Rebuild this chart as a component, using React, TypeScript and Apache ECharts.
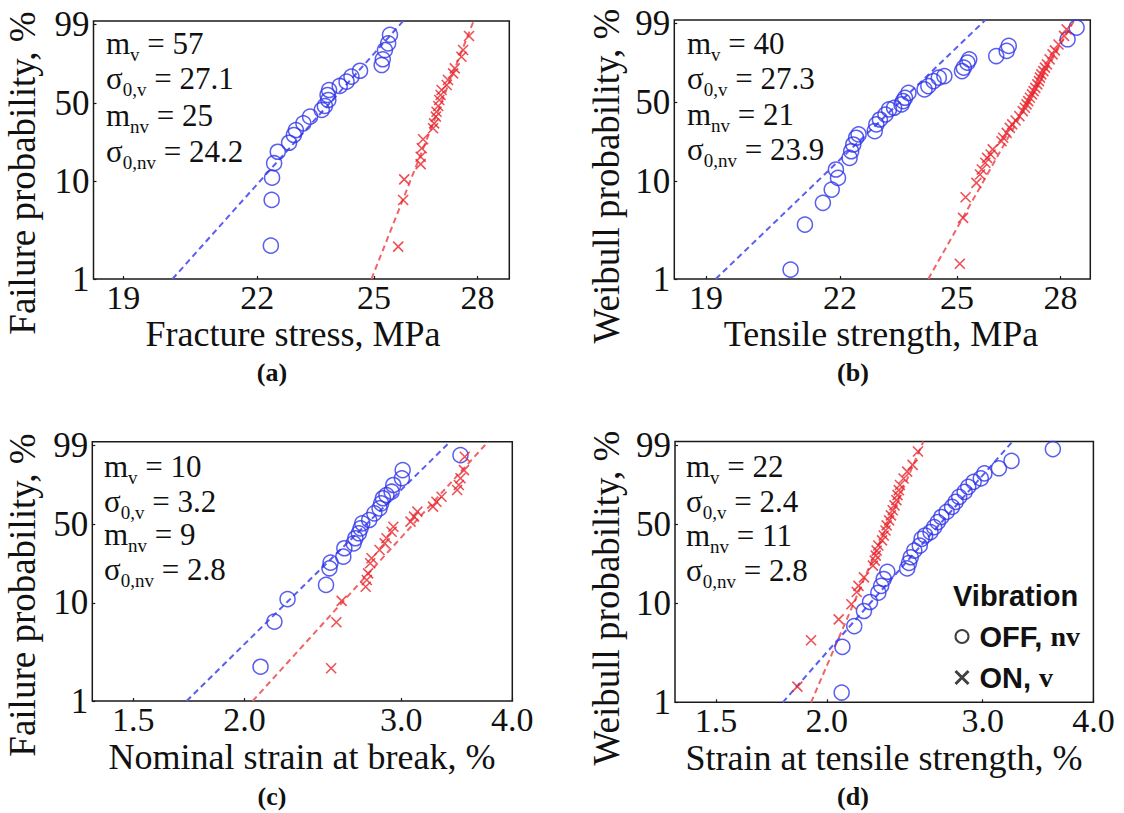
import React, { useEffect, useRef } from 'react';
import * as echarts from 'echarts';

// ---------------- Data ----------------
// (a) Fracture stress, MPa  – nv: vibration OFF (circles), v: vibration ON (crosses)
const aStressNv = [22.33, 22.35, 22.36, 22.41, 22.5, 22.78, 22.9, 22.95, 23.14, 23.31, 23.61, 23.69, 23.78, 23.76, 23.8, 24.08, 24.26, 24.39, 24.62, 25.21, 25.24, 25.3, 25.39, 25.44];
const aProbNv = [2.22, 6.53, 10.9, 15.1, 19.4, 23.5, 27.6, 30.5, 34.8, 39.5, 44.6, 47.8, 52.8, 57.1, 61.5, 65.1, 68.9, 73.2, 78.1, 82.5, 86.5, 91.8, 94.7, 97.3];
const aStressV = [25.67, 25.81, 25.84, 26.31, 26.31, 26.34, 26.38, 26.67, 26.7, 26.75, 26.77, 26.82, 26.85, 26.89, 26.92, 27.07, 27.11, 27.26, 27.31, 27.51, 27.56, 27.74];
const aProbV = [2.17, 6.53, 10.5, 14.8, 17.4, 20.9, 25.3, 31.6, 34.8, 39.5, 43.2, 47.8, 52.8, 57.1, 61.5, 66.0, 70.3, 76.0, 80.0, 88.1, 91.8, 97.0];
const aFitNv = [[20.05, 1], [25.81, 99.35]];
const aFitV = [[24.93, 1], [27.88, 99.35]];
const aParams = ['57', '27.1', '25', '24.2'];

// (b) Tensile strength, MPa
const bStrNv = [20.84, 21.17, 21.59, 21.8, 21.95, 21.9, 22.23, 22.27, 22.32, 22.39, 22.45, 22.85, 22.89, 22.98, 23.12, 23.21, 23.34, 23.53, 23.57, 23.62, 23.71, 24.13, 24.23, 24.37, 24.51, 24.66, 25.14, 25.19, 25.29, 25.34, 26.1, 26.4, 26.46, 28.22, 28.5];
const bProbNv = [1.25, 3.64, 6.06, 8.23, 10.76, 13.0, 16.8, 19.4, 22.4, 25.8, 27.6, 29.5, 33.7, 37.0, 40.6, 44.5, 45.8, 48.5, 51.3, 54.1, 58.4, 61.4, 64.3, 68.7, 71.7, 73.0, 77.2, 79.9, 83.6, 85.9, 88.0, 90.9, 93.3, 95.8, 98.5];
const bStrV = [25.08, 25.17, 25.24, 25.54, 25.64, 25.69, 25.79, 25.84, 25.94, 26.0, 26.25, 26.3, 26.4, 26.49, 26.56, 26.66, 26.77, 26.87, 26.93, 26.98, 27.03, 27.08, 27.14, 27.19, 27.24, 27.3, 27.35, 27.38, 27.42, 27.48, 27.53, 27.59, 27.67, 27.76, 27.83, 27.94, 28.11, 28.19];
const bProbV = [1.44, 4.27, 6.91, 9.6, 11.6, 13.0, 15.1, 16.8, 18.1, 20.2, 24.0, 25.8, 28.5, 31.5, 33.7, 36.3, 39.4, 43.2, 45.8, 48.5, 51.3, 54.1, 57.0, 59.9, 62.8, 65.8, 68.7, 71.7, 74.5, 77.2, 79.9, 82.4, 85.9, 89.0, 91.2, 93.9, 96.8, 98.2];
const bFitNv = [[19.2, 1], [25.79, 99.35]];
const bFitV = [[24.23, 1], [28.43, 99.35]];
const bParams = ['40', '27.3', '21', '23.9'];

// (c) Nominal strain at break, %
const cStrainNv = [2.085, 2.161, 2.236, 2.47, 2.492, 2.499, 2.583, 2.59, 2.653, 2.665, 2.689, 2.701, 2.713, 2.762, 2.799, 2.837, 2.849, 2.862, 2.888, 2.927, 2.94, 3.006, 3.012, 3.498];
const cProbNv = [2.26, 6.51, 10.9, 15.0, 21.5, 24.2, 27.4, 32.4, 35.6, 39.2, 42.9, 46.8, 50.9, 53.7, 59.5, 63.9, 68.3, 72.7, 75.4, 78.1, 83.2, 87.7, 92.2, 97.4];
const cStrainV = [2.503, 2.537, 2.572, 2.737, 2.745, 2.754, 2.769, 2.779, 2.837, 2.875, 2.888, 2.927, 2.94, 3.074, 3.102, 3.129, 3.258, 3.287, 3.331, 3.468, 3.483, 3.498, 3.53, 3.537];
const cProbV = [2.18, 6.42, 10.5, 14.4, 16.7, 19.3, 23.9, 26.5, 31.3, 35.6, 39.2, 44.1, 48.1, 52.3, 56.6, 61.0, 65.4, 69.7, 74.0, 79.4, 83.2, 87.7, 92.2, 97.0];
const cFitNv = [[1.722, 1], [3.406, 99.35]];
const cFitV = [[2.043, 1], [3.757, 99.35]];
const cParams = ['10', '3.2', '9', '2.8'];

// (d) Strain at tensile strength, %
const dStrainNv = [2.079, 2.083, 2.148, 2.203, 2.238, 2.287, 2.304, 2.319, 2.341, 2.465, 2.477, 2.488, 2.511, 2.547, 2.559, 2.583, 2.619, 2.644, 2.669, 2.694, 2.731, 2.77, 2.796, 2.822, 2.862, 2.889, 2.93, 2.985, 3.013, 3.129, 3.233, 3.6];
const dProbNv = [1.26, 3.7, 5.99, 8.48, 10.4, 12.8, 14.9, 17.3, 20.2, 21.7, 24.3, 27.3, 31.2, 34.4, 39.0, 41.5, 44.1, 48.0, 52.2, 56.5, 60.9, 65.3, 69.7, 73.9, 78.0, 81.9, 85.4, 87.6, 90.5, 93.0, 95.8, 98.5];
const dStrainV = [1.853, 1.92, 2.063, 2.132, 2.162, 2.172, 2.203, 2.255, 2.266, 2.272, 2.277, 2.287, 2.309, 2.319, 2.33, 2.337, 2.352, 2.363, 2.374, 2.385, 2.397, 2.404, 2.412, 2.419, 2.442, 2.465, 2.5, 2.535];
const dProbV = [1.45, 4.32, 7.0, 9.87, 13.0, 14.9, 17.9, 23.0, 25.5, 28.2, 31.2, 34.4, 37.9, 41.5, 45.3, 49.4, 53.6, 57.9, 62.4, 66.7, 71.2, 75.4, 79.4, 83.2, 87.6, 91.4, 94.4, 98.1];
const dFitNv = [[1.784, 1], [3.242, 99.35]];
const dFitV = [[1.92, 1], [2.571, 99.35]];
const dParams = ['22', '2.4', '11', '2.8'];

// Tick labels
const probTicks = [1, 10, 50, 99];
const probTickLabels = ['1', '10', '50', '99'];
const stressTicks = [19, 22, 25, 28];
const stressTickLabels = ['19', '22', '25', '28'];
const strainTicks = [1.5, 2.0, 3.0, 4.0];
const strainTickLabels = ['1.5', '2.0', '3.0', '4.0'];

const seriesNames = ['OFF, nv', 'ON, v'];

// ---------------- Scales (Weibull probability paper) ----------------
const W = (p: number) => Math.log(-Math.log(1 - p / 100));
const L = (x: number) => Math.log(x);
const P_MIN = 1;
const P_MAX = 99.35;

const SERIF = 'Liberation Serif, Times New Roman, Times, serif';
const SANS = 'Liberation Sans, Arial, Helvetica, sans-serif';
const BLUE = '#2f36e8';
const RED = '#e8242c';
const BLUE_LINE = '#5b5ef0';
const RED_LINE = '#f06468';
const CROSS = 'path://M0 0L10 10M10 0L0 10';

const panels = [
  {
    grid: { left: 93.5, top: 21, width: 415.8, height: 258 },
    xMin: 18.39, xMax: 28.99, ticks: stressTicks, tickLabels: stressTickLabels,
    nvX: aStressNv, nvP: aProbNv, vX: aStressV, vP: aProbV, fitNv: aFitNv, fitV: aFitV,
    params: aParams, paramX: 106, paramY: [44, 79, 116, 152],
    yTitle: 'Failure probability, %', yTitlePos: [22, 173],
    xTitle: 'Fracture stress, MPa', xTitlePos: [293, 334],
    caption: '(a)', capPos: [272, 372],
  },
  {
    grid: { left: 674.3, top: 20, width: 416, height: 259 },
    xMin: 18.35, xMax: 28.93, ticks: stressTicks, tickLabels: stressTickLabels,
    nvX: bStrNv, nvP: bProbNv, vX: bStrV, vP: bProbV, fitNv: bFitNv, fitV: bFitV,
    params: bParams, paramX: 687, paramY: [44, 79, 115, 150],
    yTitle: 'Weibull probability, %', yTitlePos: [606, 176],
    xTitle: 'Tensile strength, MPa', xTitlePos: [881, 334],
    caption: '(b)', capPos: [853, 372],
  },
  {
    grid: { left: 92.3, top: 441.7, width: 420, height: 259.3 },
    xMin: 1.349, xMax: 4.0, ticks: strainTicks, tickLabels: strainTickLabels,
    nvX: cStrainNv, nvP: cProbNv, vX: cStrainV, vP: cProbV, fitNv: cFitNv, fitV: cFitV,
    params: cParams, paramX: 104, paramY: [467, 502, 535, 570],
    yTitle: 'Failure probability, %', yTitlePos: [22, 595],
    xTitle: 'Nominal strain at break, %', xTitlePos: [302, 757],
    caption: '(c)', capPos: [272, 796],
  },
  {
    grid: { left: 675, top: 441.5, width: 418.4, height: 260.8 },
    xMin: 1.348, xMax: 4.0, ticks: strainTicks, tickLabels: strainTickLabels,
    nvX: dStrainNv, nvP: dProbNv, vX: dStrainV, vP: dProbV, fitNv: dFitNv, fitV: dFitV,
    params: dParams, paramX: 686, paramY: [467, 502, 536, 571],
    yTitle: 'Weibull probability, %', yTitlePos: [606, 598],
    xTitle: 'Strain at tensile strength, %', xTitlePos: [884, 758],
    caption: '(d)', capPos: [853, 796],
  },
];

function buildOption() {
  const grids: any[] = [];
  const xAxes: any[] = [];
  const yAxes: any[] = [];
  const series: any[] = [];
  const graphics: any[] = [];

  panels.forEach((pn, i) => {
    grids.push({
      ...pn.grid,
      show: true,
      borderColor: '#1a1a1a',
      borderWidth: 1.5,
      backgroundColor: 'rgba(0,0,0,0)',
      containLabel: false,
    });
    const xTickVals = pn.ticks.map(L);
    xAxes.push({
      type: 'value',
      gridIndex: i,
      position: 'bottom',
      min: L(pn.xMin),
      max: L(pn.xMax),
      axisLine: { show: false, onZero: false },
      splitLine: { show: false },
      axisTick: { show: true, inside: true, length: 3, customValues: xTickVals, lineStyle: { color: '#1a1a1a', width: 1.2 } },
      axisLabel: {
        customValues: xTickVals,
        margin: 1,
        fontSize: 34,
        fontFamily: SERIF,
        color: '#111',
        formatter: (v: number) => {
          const k = xTickVals.findIndex((t) => Math.abs(t - v) < 1e-6);
          return k >= 0 ? pn.tickLabels[k] : '';
        },
      },
    });
    const yTickVals = probTicks.map(W);
    yAxes.push({
      type: 'value',
      gridIndex: i,
      position: 'left',
      min: W(P_MIN),
      max: W(P_MAX),
      axisLine: { show: false, onZero: false },
      splitLine: { show: false },
      axisTick: { show: true, inside: true, length: 3, customValues: yTickVals, lineStyle: { color: '#1a1a1a', width: 1.2 } },
      axisLabel: {
        customValues: yTickVals,
        margin: 4,
        fontSize: 35,
        fontFamily: SERIF,
        color: '#111',
        formatter: (v: number) => {
          const k = yTickVals.findIndex((t) => Math.abs(t - v) < 1e-6);
          return k >= 0 ? probTickLabels[k] : '';
        },
      },
    });

    const fitStyle = (c: string) => ({ color: c, width: 2, type: [6, 4] });
    series.push({
      type: 'line', xAxisIndex: i, yAxisIndex: i, silent: true, showSymbol: false, z: 1,
      data: pn.fitNv.map(([x, p]) => [L(x), W(p)]), lineStyle: fitStyle(BLUE_LINE),
    });
    series.push({
      type: 'line', xAxisIndex: i, yAxisIndex: i, silent: true, showSymbol: false, z: 1,
      data: pn.fitV.map(([x, p]) => [L(x), W(p)]), lineStyle: fitStyle(RED_LINE),
    });
    series.push({
      name: seriesNames[0], type: 'scatter', xAxisIndex: i, yAxisIndex: i, z: 3,
      symbol: 'circle', symbolSize: 15,
      itemStyle: { color: 'rgba(0,0,0,0)', borderColor: BLUE, borderWidth: 1.5 },
      data: pn.nvX.map((x, k) => [L(x), W(pn.nvP[k])]),
    });
    series.push({
      name: seriesNames[1], type: 'scatter', xAxisIndex: i, yAxisIndex: i, z: 4,
      symbol: CROSS, symbolSize: 10,
      itemStyle: { color: 'rgba(0,0,0,0)', borderColor: RED, borderWidth: 1.6 },
      data: pn.vX.map((x, k) => [L(x), W(pn.vP[k])]),
    });

    // parameter annotations
    const lines = [
      `{m|m}{s|v}{m| = ${pn.params[0]}}`,
      `{m|σ}{s|0,v}{m| = ${pn.params[1]}}`,
      `{m|m}{s|nv}{m| = ${pn.params[2]}}`,
      `{m|σ}{s|0,nv}{m| = ${pn.params[3]}}`,
    ];
    lines.forEach((t, k) => {
      graphics.push({
        type: 'text', x: pn.paramX, y: pn.paramY[k], z: 10,
        style: {
          text: t, align: 'left', verticalAlign: 'middle', fill: '#111',
          rich: {
            m: { fontSize: 31, fontFamily: SERIF, fill: '#111', lineHeight: 32, verticalAlign: 'top' },
            s: { fontSize: 19, fontFamily: SERIF, fill: '#111', lineHeight: 14, verticalAlign: 'top', padding: [17, 0, 0, 0] },
          },
        },
      });
    });

    graphics.push({
      type: 'text', x: pn.yTitlePos[0], y: pn.yTitlePos[1], rotation: Math.PI / 2,
      style: { text: pn.yTitle, fontSize: 37, fontFamily: SERIF, fill: '#111', align: 'center', verticalAlign: 'middle' },
    });
    graphics.push({
      type: 'text', x: pn.xTitlePos[0], y: pn.xTitlePos[1],
      style: { text: pn.xTitle, fontSize: 36, fontFamily: SERIF, fill: '#111', align: 'center', verticalAlign: 'middle' },
    });
    graphics.push({
      type: 'text', x: pn.capPos[0], y: pn.capPos[1],
      style: { text: pn.caption, fontSize: 26, fontWeight: 'bold', fontFamily: SERIF, fill: '#111', align: 'center', verticalAlign: 'middle' },
    });
  });

  graphics.push({
    type: 'text', x: 953, y: 596,
    style: { text: 'Vibration', fontSize: 29, fontWeight: 'bold', fontFamily: SANS, fill: '#111', align: 'left', verticalAlign: 'middle' },
  });

  return {
    animation: false,
    backgroundColor: '#ffffff',
    grid: grids,
    xAxis: xAxes,
    yAxis: yAxes,
    series,
    graphic: graphics,
    legend: {
      show: true,
      selectedMode: false,
      orient: 'vertical',
      left: 954,
      top: 622,
      padding: 0,
      itemGap: 12,
      itemWidth: 13,
      itemHeight: 13,
      data: [
        { name: seriesNames[0], icon: 'circle', itemStyle: { color: 'rgba(0,0,0,0)', borderColor: '#111', borderWidth: 2 } },
        { name: seriesNames[1], icon: CROSS, itemStyle: { color: 'rgba(0,0,0,0)', borderColor: '#111', borderWidth: 3 } },
      ],
      formatter: (name: string) => {
        const [a, b] = name.split(' ');
        return `{s|${a} }{r|${b}}`;
      },
      textStyle: {
        padding: [0, 0, 0, 6],
        rich: {
          s: { fontSize: 29, fontWeight: 'bold', fontFamily: SANS, color: '#111' },
          r: { fontSize: 28, fontWeight: 'bold', fontFamily: SERIF, color: '#111' },
        },
      },
    },
  };
}

export default function App() {
  const ref = useRef<HTMLDivElement>(null);
  useEffect(() => {
    if (!ref.current) return;
    const chart = echarts.init(ref.current, undefined, { renderer: 'svg' });
    chart.setOption(buildOption() as any);
    return () => chart.dispose();
  }, []);
  return (
    <div
      ref={ref}
      style={{ position: 'absolute', left: 0, top: 0, width: 1124, height: 813, background: '#fff' }}
    />
  );
}
